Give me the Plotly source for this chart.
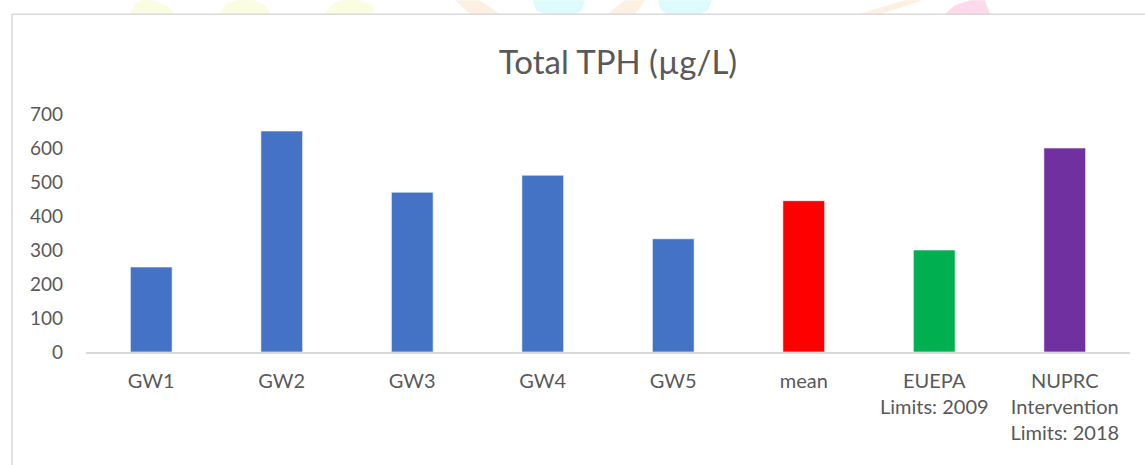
import plotly.graph_objects as go

categories = ["GW1", "GW2", "GW3", "GW4", "GW5", "mean",
              "EUEPA<br>Limits: 2009", "NUPRC<br>Intervention<br>Limits: 2018"]
values = [250, 650, 470, 520, 333, 445, 300, 600]
colors = ["#4472C4", "#4472C4", "#4472C4", "#4472C4", "#4472C4",
          "#FF0000", "#00B050", "#7030A0"]
y_ticks = [0, 100, 200, 300, 400, 500, 600, 700]

W, H = 1145, 465
L, R, T, B = 86, 15, 114, 112.5
plot_w = W - L - R
plot_h = H - T - B


def px(x):
    return (x - L) / plot_w


def py(y):
    return (H - B - y) / plot_h


def blob(pts, color):
    d = "M " + " L ".join(f"{px(a):.5f},{py(b):.5f}" for a, b in pts) + " Z"
    return dict(type="path", xref="paper", yref="paper", path=d,
                fillcolor=color, line=dict(width=0), layer="below")


# faint watermark fragments above the chart frame
wm = [
    ([(130, 14), (134, 4), (142, 0), (152, 0), (168, 6), (175, 14)], "#FBFDE2"),
    ([(220, 14), (226, 3), (238, 0), (254, 0), (266, 5), (270, 14)], "#FBFDE2"),
    ([(325, 14), (331, 5), (342, 0), (360, 0), (372, 5), (375, 14)], "#FBFDE2"),
    ([(455, 0), (480, 0), (500, 14), (470, 14)], "#FDF0E3"),
    ([(533, 0), (585, 0), (582, 10), (575, 14), (545, 14), (536, 10)], "#DDFBFD"),
    ([(625, 0), (645, 0), (635, 14), (607, 14)], "#FDF0E3"),
    ([(658, 0), (712, 0), (708, 10), (700, 14), (668, 14), (661, 10)], "#DDFBFD"),
    ([(905, 0), (923, 0), (880, 14), (858, 14)], "#FDF0E3"),
    ([(945, 14), (955, 5), (970, 0), (985, 0), (990, 14)], "#FDD9EC"),
]

shapes = [blob(p, c) for p, c in wm]
shapes.append(dict(type="rect", xref="paper", yref="paper",
                   x0=px(12), x1=1.2, y0=-1.0, y1=py(14),
                   line=dict(color="#D9D9D9", width=1.5), fillcolor="rgba(0,0,0,0)",
                   layer="below"))

fig = go.Figure(go.Bar(
    x=list(range(len(categories))), y=values,
    marker=dict(color=colors, line=dict(color="rgba(255,255,255,0.6)", width=1)),
    width=0.32,
))

font_family = "Lato, Open Sans, sans-serif"
fig.update_layout(
    width=W, height=H,
    margin=dict(l=L, r=R, t=T, b=B, autoexpand=False),
    paper_bgcolor="white", plot_bgcolor="white",
    showlegend=False,
    title=dict(text="Total TPH (µg/L)", x=618 / W, xref="container", xanchor="center",
               y=1 - 62 / H, yref="container", yanchor="middle",
               font=dict(family=font_family, size=33, color="#595959")),
    xaxis=dict(tickmode="array", tickvals=list(range(len(categories))), ticktext=categories,
               range=[-0.5, len(categories) - 0.5],
               showline=True, linecolor="#D9D9D9", linewidth=1.5,
               showgrid=False, ticks="", zeroline=False, ticklabelstandoff=10,
               tickfont=dict(family=font_family, size=20, color="#595959")),
    yaxis=dict(range=[0, 700], tickvals=y_ticks, showgrid=False, zeroline=False,
               showline=False, ticks="", ticklabelstandoff=22,
               tickfont=dict(family=font_family, size=19, color="#595959")),
    shapes=shapes,
)

fig.write_html("out.html", config={"displayModeBar": False},
               post_script="document.body.style.margin='0';")
